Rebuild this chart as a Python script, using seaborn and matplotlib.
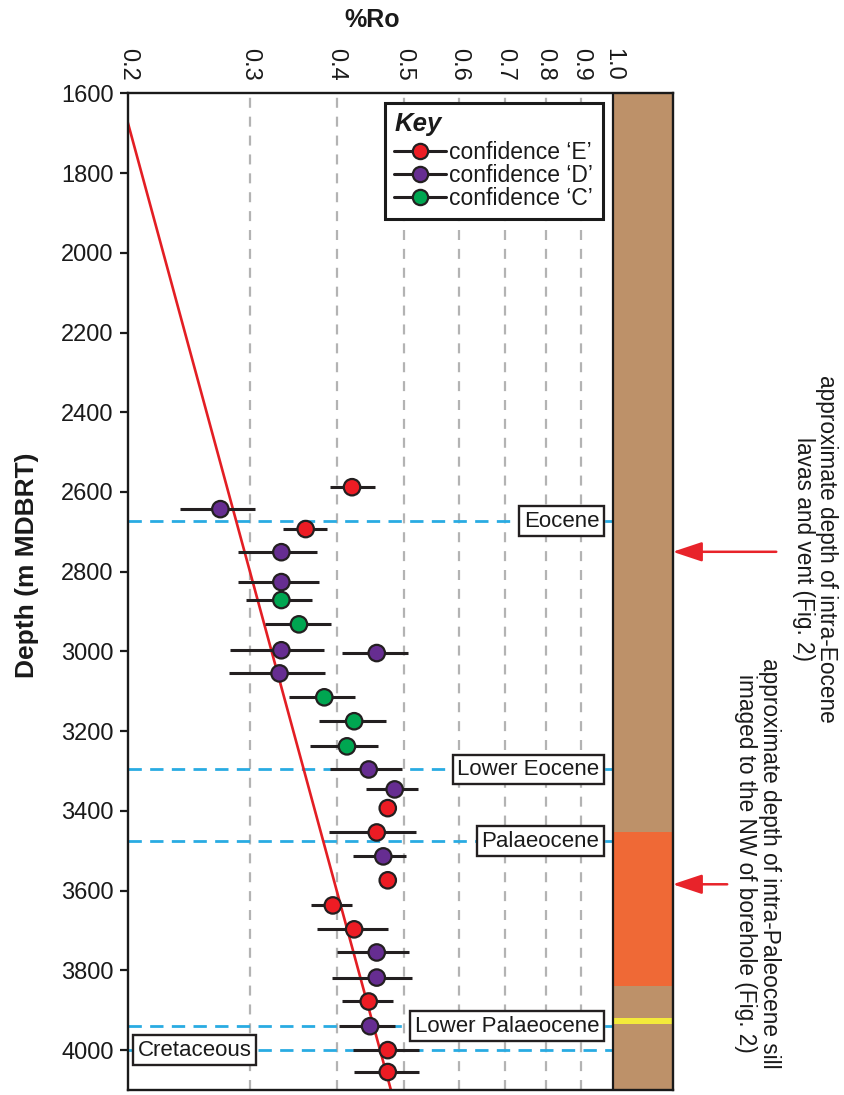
import numpy as np
import pandas as pd
import matplotlib
matplotlib.use("Agg")
import matplotlib.pyplot as plt
import matplotlib.transforms as mtransforms
from matplotlib.lines import Line2D
import seaborn as sns

sns.set_style("white")
plt.rcParams['font.family'] = ['Liberation Sans', 'DejaVu Sans']
plt.rcParams['text.color'] = '#1A1A1A'
plt.rcParams['xtick.color'] = '#1A1A1A'
plt.rcParams['ytick.color'] = '#1A1A1A'
plt.rcParams['axes.labelcolor'] = '#1A1A1A'

# ---------------- data ----------------
depth = [2588, 2643, 2693, 2751, 2826, 2871, 2932, 2997, 3004, 3055, 3115, 3175, 3238,
         3296, 3346, 3393, 3454, 3514, 3574, 3637, 3697, 3755, 3818, 3878, 3940, 4000, 4055]
ro = [0.421, 0.272, 0.361, 0.333, 0.333, 0.333, 0.353, 0.333, 0.457, 0.331, 0.384, 0.424, 0.414,
      0.445, 0.485, 0.474, 0.457, 0.467, 0.474, 0.395, 0.424, 0.457, 0.457, 0.445, 0.447, 0.474, 0.474]
ro_lo = [0.391, 0.238, 0.335, 0.288, 0.288, 0.296, 0.315, 0.281, 0.407, 0.280, 0.342, 0.377, 0.366,
         0.391, 0.441, np.nan, 0.390, 0.422, np.nan, 0.367, 0.375, 0.401, 0.394, 0.407, 0.403, 0.422, 0.424]
ro_hi = [0.454, 0.305, 0.388, 0.375, 0.377, 0.369, 0.393, 0.384, 0.507, 0.385, 0.425, 0.471, 0.459,
         0.497, 0.524, np.nan, 0.521, 0.503, np.nan, 0.421, 0.474, 0.509, 0.514, 0.482, 0.486, 0.526, 0.526]
confidence = ['E', 'D', 'E', 'D', 'D', 'C', 'C', 'D', 'D', 'D', 'C', 'C', 'C',
              'D', 'D', 'E', 'E', 'D', 'E', 'E', 'E', 'D', 'D', 'E', 'D', 'E', 'E']

trend_ro = [0.2, 0.479]
trend_depth = [1672, 4100]

formation_names = ['Eocene', 'Lower Eocene', 'Palaeocene', 'Lower Palaeocene', 'Cretaceous']
formation_depths = [2673, 3296, 3476, 3940, 4000]

# lithology column intervals (top, base)
sill_interval = [3454, 3840]
thin_sill = [3919, 3935]

x_ticks = [0.2, 0.3, 0.4, 0.5, 0.6, 0.7, 0.8, 0.9, 1.0]
x_tick_labels = ['0.2', '0.3', '0.4', '0.5', '0.6', '0.7', '0.8', '0.9', '1.0']
y_ticks = list(range(1600, 4001, 200))

arrow_depths = [2750, 3584]
arrow_texts = ['approximate depth of intra-Eocene\nlavas and vent (Fig. 2)',
               'approximate depth of intra-Paleocene sill\nimaged to the NW of borehole (Fig. 2)']

palette = {'E': '#ED1C24', 'D': '#662D91', 'C': '#00A651'}
legend_labels = {'E': "confidence \u2018E\u2019", 'D': "confidence \u2018D\u2019", 'C': "confidence \u2018C\u2019"}

df = pd.DataFrame({'depth': depth, 'ro': ro, 'lo': ro_lo, 'hi': ro_hi, 'conf': confidence})

# ---------------- figure ----------------
fig = plt.figure(figsize=(8.45, 10.95), dpi=100)
ax = fig.add_axes([0.1511, 0.00457, 0.645, 0.9102])
ax.set_xscale('log')
ax.set_xlim(0.2, 1.22)
ax.set_ylim(4100, 1600)

trans = mtransforms.blended_transform_factory(ax.transAxes, ax.transData)

# grid lines
for xv in x_ticks[1:-1]:
    ax.axvline(xv, color='#B3B3B3', lw=1.6, ls=(0, (4.5, 4)), zorder=0.5)

# formation tops
for d in formation_depths:
    ax.axhline(d, color='#29ABE2', lw=2, ls=(0, (4.8, 3.0)), zorder=1)

# lithology column
ax.axvspan(1.0, 1.22, color='#BD9169', zorder=2, lw=0)
ax.fill_betweenx(sill_interval, 1.0, 1.22, color='#EF6936', zorder=2.1, lw=0)
ax.fill_betweenx(thin_sill, 1.0, 1.22, color='#F4EA3A', zorder=2.2, lw=0)
ax.axvline(1.0, color='#1A1A1A', lw=1.6, zorder=2.5)

# trend line
ax.plot(trend_ro, trend_depth, color='#E31E24', lw=1.9, zorder=2.6)

# error bars
eb = df.dropna(subset=['lo', 'hi'])
ax.hlines(eb['depth'], eb['lo'], eb['hi'], color='#231F20', lw=2.2, zorder=3)

# points
sns.scatterplot(data=df, x='ro', y='depth', hue='conf', palette=palette, s=140,
                edgecolor='#231F20', linewidth=1.6, legend=False, ax=ax, zorder=4)

# formation labels
for name, d in zip(formation_names, formation_depths):
    if name == 'Cretaceous':
        xa, ha = 0.018, 'left'
    else:
        xa, ha = 0.8655, 'right'
    ax.text(xa, d, name, transform=trans, ha=ha, va='center', fontsize=16, zorder=6,
            bbox=dict(boxstyle='square,pad=0.2', fc='white', ec='#231F20', lw=1.7))

# axes styling
ax.set_xticks(x_ticks)
ax.set_xticklabels(x_tick_labels)
ax.xaxis.set_minor_locator(matplotlib.ticker.NullLocator())
ax.tick_params(axis='x', top=True, labeltop=True, bottom=False, labelbottom=False,
               length=0, pad=9, labelsize=17, labelrotation=-90)
ax.set_yticks(y_ticks)
ax.tick_params(axis='y', left=True, direction='out', length=6, width=1.6, pad=4, labelsize=17)
for s in ax.spines.values():
    s.set_linewidth(1.7)
    s.set_color('#1A1A1A')
    s.set_zorder(7)

ax.set_xlabel('%Ro', fontsize=18, fontweight='bold')
ax.xaxis.set_label_position('top')
ax.xaxis.set_label_coords(0.448, 1.0735)
ax.xaxis.label.set_va('center')
ax.set_ylabel('Depth (m MDBRT)', fontsize=19, fontweight='bold')
ax.yaxis.set_label_coords(-0.184, 0.526)
ax.yaxis.label.set_va('center')

# legend
handles = [Line2D([0], [0], color='#231F20', lw=2.2, marker='o', markersize=11,
                  markerfacecolor=palette[k], markeredgecolor='#231F20', markeredgewidth=1.6)
           for k in ['E', 'D', 'C']]
leg = ax.legend(handles, [legend_labels[k] for k in ['E', 'D', 'C']], title='Key',
                loc='upper right', bbox_to_anchor=(0.8715, 0.9905), bbox_transform=ax.transAxes,
                borderaxespad=0, frameon=True, fancybox=False, edgecolor='#1A1A1A', framealpha=1,
                fontsize=16.5, title_fontproperties={'weight': 'bold', 'style': 'italic', 'size': 18.5},
                alignment='left', handlelength=2.25, handletextpad=0.15, labelspacing=0.0,
                borderpad=0.42)
leg._legend_box.sep = 3
leg.get_frame().set_linewidth(2.2)
leg.set_zorder(8)

# arrows and annotations
arrow_tails = [1.19, 1.10]
text_pos = [(1.261, 2743), (1.155, 3531)]
for d, tail, txt, (tx, ty) in zip(arrow_depths, arrow_tails, arrow_texts, text_pos):
    ax.annotate('', xy=(1.0, d), xycoords=trans, xytext=(tail, d), textcoords=trans,
                arrowprops=dict(arrowstyle='-|>,head_length=0.9,head_width=0.3',
                                color='#E8232A', lw=1.8, mutation_scale=20,
                                shrinkA=0, shrinkB=0),
                annotation_clip=False)
    ax.text(tx, ty, txt, transform=trans, rotation=-90, ha='center', va='center',
            multialignment='center', fontsize=16.3, linespacing=1.05, color='#1A1A1A')

fig.savefig('out.png', dpi=100)
